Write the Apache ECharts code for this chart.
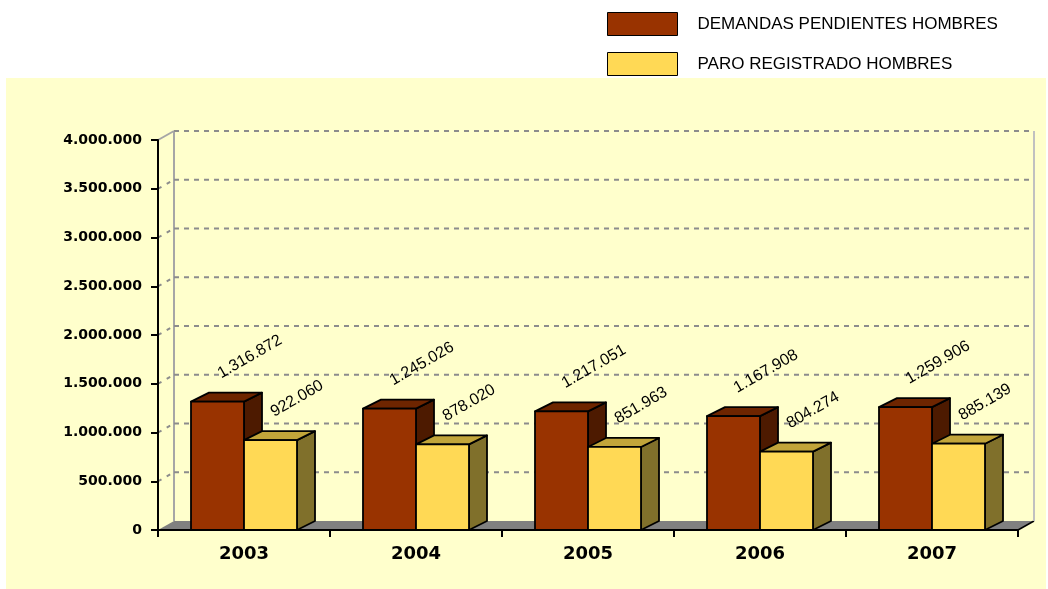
<!DOCTYPE html>
<html>
<head>
<meta charset="utf-8">
<title>Demandas pendientes y paro registrado hombres</title>
<script src="https://cdn.jsdelivr.net/npm/echarts@6/dist/echarts.min.js"></script>
<style>
  html, body { margin: 0; padding: 0; background: #fff; }
  #chart { width: 1048px; height: 589px; }
</style>
</head>
<body>
<div id="chart"></div>
<script>
  // datos
  var years = ['2003', '2004', '2005', '2006', '2007']
  var demandasHombres = [1316872, 1245026, 1217051, 1167908, 1259906]
  var paroHombres = [922060, 878020, 851963, 804274, 885139]
  var yTicks = [0, 500000, 1000000, 1500000, 2000000, 2500000, 3000000, 3500000, 4000000]

  var DX = 18, DY = -9 // fondo de las barras
  var WX = 16, WY = -9 // fondo de paredes y suelo

  function fmt(v) {
    return String(v).replace(/\B(?=(\d{3})+(?!\d))/g, '.')
  }

  // barra con caras frontal, superior y lateral
  function renderBar(side, colors) {
    return function(params, api) {
      var idx = api.value(0)
      var val = api.value(1)
      var base = api.coord([idx, 0])
      var top = api.coord([idx, val])
      var w = Math.round(api.size([1, 0])[0] * 0.31)
      var x0 = side < 0 ? base[0] - w : base[0]
      var x1 = x0 + w
      var y0 = top[1]
      var y1 = base[1]
      var line = { stroke: '#000', lineWidth: 1.8, lineJoin: 'round' }
      return {
        type: 'group',
        children: [
          {
            type: 'polygon',
            shape: { points: [[x1, y0], [x1 + DX, y0 + DY], [x1 + DX, y1 + DY], [x1, y1]] },
            style: Object.assign({ fill: colors.side }, line)
          },
          {
            type: 'polygon',
            shape: { points: [[x0, y0], [x0 + DX, y0 + DY], [x1 + DX, y0 + DY], [x1, y0]] },
            style: Object.assign({ fill: colors.top }, line)
          },
          {
            type: 'rect',
            shape: { x: x0, y: y0, width: w, height: y1 - y0 },
            style: Object.assign({ fill: colors.front }, line)
          },
          {
            type: 'text',
            x: x0 + 32,
            y: y0 - 20,
            rotation: Math.PI / 6,
            style: {
              text: fmt(val),
              fontSize: 16,
              fontFamily: 'Liberation Sans',
              fill: '#000',
              align: 'left',
              verticalAlign: 'bottom'
            }
          }
        ]
      }
    }
  }

  // suelo, paredes y lineas de division
  function renderWall(params, api) {
    var cs = params.coordSys
    var v = api.value(1)
    var y = api.coord([0, v])[1]
    var left = cs.x
    var right = cs.x + cs.width
    var bottom = cs.y + cs.height
    var gray = '#8c8c8c'
    var children = []
    if (v === 0) {
      children.push({
        type: 'polygon',
        shape: { points: [[left, y], [right, y], [right + WX, y + WY], [left + WX, y + WY]] },
        style: { fill: '#808080' }
      })
      children.push({
        type: 'line',
        shape: { x1: right, y1: y, x2: right + WX, y2: y + WY },
        style: { stroke: '#000', lineWidth: 1.5 }
      })
      children.push({
        type: 'line',
        shape: { x1: left + WX, y1: cs.y + WY, x2: left + WX, y2: bottom + WY },
        style: { stroke: '#a6a6a6', lineWidth: 2 }
      })
      children.push({
        type: 'line',
        shape: { x1: right + WX, y1: cs.y + WY, x2: right + WX, y2: bottom + WY },
        style: { stroke: '#c0c0c0', lineWidth: 2 }
      })
    } else {
      children.push({
        type: 'line',
        shape: { x1: left + WX, y1: y + WY, x2: right + WX, y2: y + WY },
        style: { stroke: gray, lineWidth: 2, lineDash: [5, 5] }
      })
      children.push({
        type: 'line',
        shape: { x1: left, y1: y, x2: left + WX, y2: y + WY },
        style: v === yTicks[yTicks.length - 1]
          ? { stroke: '#a6a6a6', lineWidth: 2 }
          : { stroke: gray, lineWidth: 2, lineDash: [4, 6] }
      })
    }
    return { type: 'group', children: children }
  }

  var chart = echarts.init(document.getElementById('chart'))
  var option = {
    backgroundColor: '#fff',
    animation: false,
    graphic: [{
      type: 'rect',
      left: 6,
      top: 78,
      z: -10,
      silent: true,
      shape: { width: 1040, height: 520 },
      style: { fill: '#ffffcc' }
    }],
    legend: {
      orient: 'vertical',
      left: 607,
      top: 12,
      padding: 0,
      itemWidth: 70,
      itemHeight: 23,
      itemGap: 16,
      icon: 'rect',
      selectedMode: false,
      itemStyle: { borderColor: '#000', borderWidth: 1 },
      textStyle: {
        fontSize: 17,
        fontFamily: 'Liberation Sans',
        color: '#000',
        padding: [0, 0, 0, 15]
      },
      data: ['DEMANDAS PENDIENTES HOMBRES', 'PARO REGISTRADO HOMBRES']
    },
    grid: {
      left: 158,
      top: 140,
      width: 860,
      height: 390
    },
    xAxis: {
      type: 'category',
      data: years,
      z: 5,
      axisLine: { lineStyle: { color: '#000', width: 2 } },
      axisTick: { show: true, length: 7, lineStyle: { color: '#000', width: 2 } },
      axisLabel: {
        margin: 15,
        fontSize: 18,
        fontWeight: 'bold',
        fontFamily: 'DejaVu Sans',
        color: '#000'
      }
    },
    yAxis: {
      type: 'value',
      min: 0,
      max: 4000000,
      interval: 500000,
      z: 5,
      axisLine: { show: true, lineStyle: { color: '#000', width: 2 } },
      axisTick: { show: true, length: 7, lineStyle: { color: '#000', width: 2 } },
      splitLine: { show: false },
      axisLabel: {
        margin: 16,
        fontSize: 14,
        fontWeight: 'bold',
        fontFamily: 'DejaVu Sans',
        color: '#000',
        formatter: fmt
      }
    },
    series: [
      {
        name: 'pared',
        type: 'custom',
        z: 1,
        silent: true,
        renderItem: renderWall,
        data: yTicks.map(function(v) { return [0, v] })
      },
      {
        name: 'DEMANDAS PENDIENTES HOMBRES',
        type: 'custom',
        z: 2,
        itemStyle: { color: '#993300' },
        renderItem: renderBar(-1, { front: '#993300', top: '#6e2500', side: '#4d1a00' }),
        data: demandasHombres.map(function(v, i) { return [i, v] })
      },
      {
        name: 'PARO REGISTRADO HOMBRES',
        type: 'custom',
        z: 3,
        itemStyle: { color: '#ffd955' },
        renderItem: renderBar(1, { front: '#ffd955', top: '#c2a53a', side: '#80702b' }),
        data: paroHombres.map(function(v, i) { return [i, v] })
      }
    ]
  }
  chart.setOption(option)
</script>
</body>
</html>
